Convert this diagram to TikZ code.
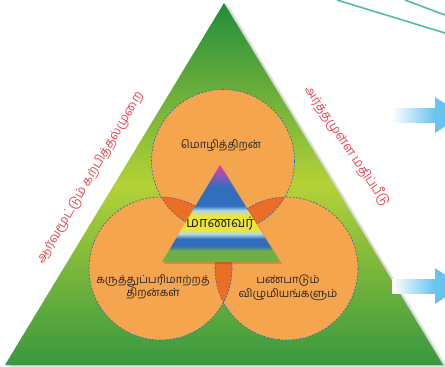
\documentclass[tikz,border=0pt]{standalone}
\usepackage{fontspec}
\newfontfamily\tamilfont[Script=Tamil]{Hind Madurai}
\usetikzlibrary{positioning}
\pgfdeclarelayer{bg}
\pgfsetlayers{bg,main}

\definecolor{darkgreen}{RGB}{34,140,60}
\definecolor{basegreen}{RGB}{56,152,64}
\definecolor{limegreen}{RGB}{180,210,55}
\definecolor{orangefill}{RGB}{245,165,78}
\definecolor{lensorange}{RGB}{234,110,38}
\definecolor{circleedge}{RGB}{40,105,185}
\definecolor{labelred}{RGB}{232,72,82}
\definecolor{textgray}{RGB}{40,36,36}
\definecolor{tealline}{RGB}{78,190,170}
\definecolor{arrowblue}{RGB}{105,195,238}
\definecolor{pgreen}{RGB}{110,175,70}
\definecolor{pblue}{RGB}{50,110,190}
\definecolor{plight}{RGB}{175,218,236}
\definecolor{pyellow}{RGB}{236,230,60}
\definecolor{ppurple}{RGB}{125,90,185}
\definecolor{pmagenta}{RGB}{222,60,170}

\pgfdeclareverticalshading{pyramid}{100bp}{%
  color(0bp)=(pgreen); color(31bp)=(pgreen); color(33bp)=(pblue);
  color(37bp)=(pblue); color(39.5bp)=(plight); color(41.5bp)=(pyellow);
  color(49bp)=(pyellow); color(51.5bp)=(plight); color(54bp)=(pblue);
  color(64bp)=(pblue); color(68.5bp)=(ppurple); color(75bp)=(pmagenta);
  color(100bp)=(pmagenta)}

\tikzset{
  skill/.style={circle, minimum size=143pt, inner sep=0pt, fill=orangefill},
  skilltext/.style={font=\tamilfont\fontsize{11.2}{13.5}\selectfont, text=textgray,
    align=center, inner sep=1pt},
  sidetext/.style={font=\tamilfont\fontsize{12.8}{14}\selectfont, text=labelred,
    inner sep=0pt},
  edgedash/.style={draw=circleedge, line width=0.6pt, dash pattern=on 2pt off 1.5pt},
  empty/.style={draw=none, fill=none, minimum size=0mm, inner sep=0mm}
}

\begin{document}
\begin{tikzpicture}[x=1pt, y=-1pt]
    \clip (0,0) rectangle (445,367);

    \coordinate (apex) at (224,3);
    \coordinate (baseL) at (5,365);
    \coordinate (baseR) at (443,365);

    \begin{pgfonlayer}{bg}
        \fill[white] (0,0) rectangle (445,367);
        \fill[black, opacity=0.10] ([shift={(5,3)}]apex) -- ([shift={(5,3)}]baseR)
            -- ([shift={(5,3)}]baseL) -- cycle;
        \fill[black, opacity=0.10] ([shift={(2,1)}]apex) -- ([shift={(2,1)}]baseR)
            -- ([shift={(2,1)}]baseL) -- cycle;
    \end{pgfonlayer}

    \shade[top color=darkgreen, bottom color=basegreen, middle color=limegreen]
        (apex) -- (baseR) -- (baseL) -- cycle;

    \node[skill] (lang) at (223,161) {};
    \node[skill] (talk) at (160.5,268.5) {};
    \node[skill] (values) at (286.5,268.5) {};

    \foreach \a/\b in {lang/talk, lang/values, talk/values} {
        \begin{scope}
            \clip (\a.center) circle [radius=71.5];
            \fill[lensorange] (\b.center) circle [radius=71.5];
        \end{scope}
    }
    \foreach \c in {lang, talk, values}
        \draw[edgedash] (\c.center) circle [radius=71.5];

    \coordinate (ptop) at (220,165);
    \coordinate (pleft) at (162,262);
    \coordinate (pright) at (280,262);

    \fill[black, opacity=0.15] ([shift={(2,2)}]ptop) -- ([shift={(2,2)}]pright)
        -- ([shift={(2,2)}]pleft) -- cycle;
    \shade[shading=pyramid] (ptop) -- (pright) -- (pleft) -- cycle;

    \node[skilltext, font=\tamilfont\fontsize{14.5}{16}\selectfont] (student)
        at (220,224) {மாணவர்};

    \node[skilltext] (langtext) at (221,145) {மொழித்திறன்};
    \node[skilltext] (talktext) at (153,287) {கருத்துப்பரிமாற்றத்\\திறன்கள்};
    \node[skilltext] (valuestext) at (288,288) {பண்பாடும்\\விழுமியங்களும்};

    \node[sidetext, rotate=59.5] (method) at (90,178) {ஆர்வமூட்டும் கற்பித்தல்முறை};
    \node[sidetext, rotate=-56] (assess) at (347,146) {அர்த்தமுள்ள மதிப்பீடு};

    % cut-off parts at the right
    \coordinate (t1a) at (337,0);
    \coordinate (t1b) at (460,37.6);
    \coordinate (t2a) at (405,0);
    \coordinate (t2b) at (460,20.6);
    \draw[tealline, line width=1.6pt] (t1a) -- (t1b);
    \draw[tealline, line width=1.6pt] (t2a) -- (t2b);

    \foreach \y/\n in {115/upper, 286/lower} {
        \coordinate (\n body) at (392,\y-7);
        \coordinate (\n neck) at (435,\y+7);
        \shade[left color=white, right color=arrowblue] (\n body) rectangle (\n neck);
        \fill[arrowblue] (435,\y-18) -- (462,\y) -- (435,\y+18) -- cycle;
    }
\end{tikzpicture}
\end{document}
